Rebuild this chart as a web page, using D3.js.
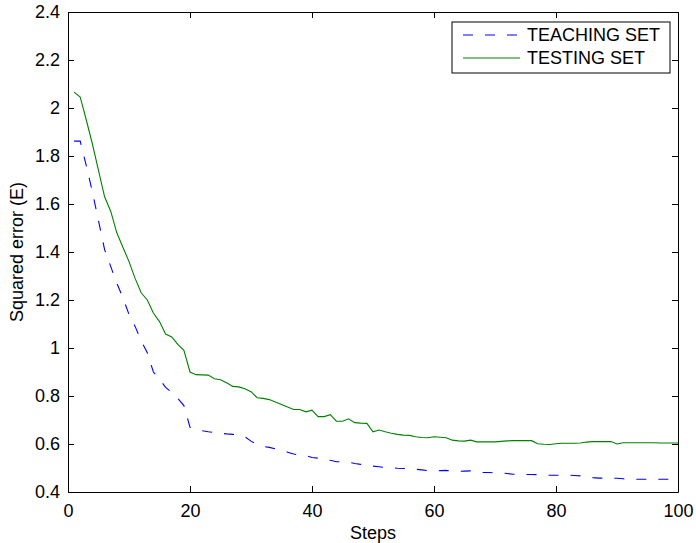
<!DOCTYPE html>
<html>
  <head>
    <meta charset="utf-8">
    <title>Squared error vs steps</title>
    <script src="https://d3js.org/d3.v7.min.js"></script>
    <style>
      body { margin: 0; background: #fff; }
      svg { font-family: "Liberation Sans", Arial, sans-serif; }
      .tick text { font-size: 18px; fill: #000; }
      .label { font-size: 18px; fill: #000; }
    </style>
  </head>
  <body>
    <svg id="chart" width="696" height="543"></svg>
    <script>
      // data (steps 1..100)
      var steps = d3.range(1, 101);
      var teaching = [
        1.862, 1.862, 1.76, 1.65, 1.53, 1.41, 1.34, 1.27, 1.21, 1.14,
        1.09, 1.03, 0.98, 0.90, 0.87, 0.836, 0.815, 0.79, 0.76, 0.67,
        0.662, 0.655, 0.651, 0.648, 0.645, 0.642, 0.64, 0.637, 0.63, 0.612,
        0.598, 0.59, 0.586, 0.58, 0.574, 0.566, 0.558, 0.554, 0.552, 0.544,
        0.541, 0.539, 0.532, 0.526, 0.526, 0.524, 0.519, 0.515, 0.512, 0.508,
        0.505, 0.502, 0.501, 0.499, 0.498, 0.497, 0.495, 0.492, 0.489, 0.488,
        0.489, 0.49, 0.487, 0.486, 0.487, 0.488, 0.483, 0.481, 0.481, 0.48,
        0.479, 0.477, 0.474, 0.473, 0.473, 0.473, 0.472, 0.47, 0.47, 0.47,
        0.47, 0.47, 0.469, 0.467, 0.463, 0.46, 0.458, 0.458, 0.458, 0.457,
        0.455, 0.454, 0.453, 0.453, 0.453, 0.453, 0.453, 0.453, 0.453, 0.453
      ];
      var testing = [
        2.066, 2.046, 1.95, 1.85, 1.74, 1.63, 1.57, 1.48, 1.42, 1.36,
        1.29, 1.23, 1.20, 1.146, 1.11, 1.058, 1.046, 1.015, 0.99, 0.90,
        0.889, 0.888, 0.887, 0.872, 0.868, 0.855, 0.84, 0.838, 0.83, 0.818,
        0.793, 0.79, 0.785, 0.775, 0.765, 0.754, 0.744, 0.744, 0.734, 0.741,
        0.714, 0.714, 0.722, 0.695, 0.695, 0.705, 0.689, 0.687, 0.686, 0.651,
        0.658, 0.651, 0.645, 0.64, 0.637, 0.636, 0.63, 0.627, 0.626, 0.63,
        0.628, 0.626, 0.616, 0.613, 0.612, 0.616, 0.609, 0.609, 0.609, 0.609,
        0.611, 0.613, 0.614, 0.614, 0.614, 0.614, 0.601, 0.599, 0.598, 0.601,
        0.603, 0.603, 0.603, 0.604, 0.608, 0.61, 0.61, 0.61, 0.61, 0.60,
        0.605, 0.605, 0.605, 0.605, 0.605, 0.605, 0.604, 0.604, 0.604, 0.604
      ];
      var xTicks = [0, 20, 40, 60, 80, 100];
      var yTicks = [0.4, 0.6, 0.8, 1, 1.2, 1.4, 1.6, 1.8, 2, 2.2, 2.4];
      var seriesNames = ["TEACHING SET", "TESTING SET"];

      var svg = d3.select("#chart");
      var margin = { top: 12, right: 18, bottom: 51, left: 68 };
      var width = 696, height = 543;

      var x = d3.scaleLinear().domain([0, 100])
        .range([margin.left, width - margin.right]);
      var y = d3.scaleLinear().domain([0.4, 2.4])
        .range([height - margin.bottom, margin.top]);

      // axes: matlab style box with inward ticks
      svg.append("g")
        .attr("transform", "translate(0," + y(0.4) + ")")
        .call(d3.axisBottom(x).tickValues(xTicks).tickSizeInner(-6).tickSizeOuter(0).tickPadding(12).tickFormat(d3.format("d")));
      svg.append("g")
        .attr("transform", "translate(0," + y(2.4) + ")")
        .call(d3.axisTop(x).tickValues(xTicks).tickSizeInner(-6).tickSizeOuter(0).tickFormat(""));
      svg.append("g")
        .attr("transform", "translate(" + x(0) + ",0)")
        .call(d3.axisLeft(y).tickValues(yTicks).tickSizeInner(-6).tickSizeOuter(0).tickPadding(8).tickFormat(d3.format("")));
      svg.append("g")
        .attr("transform", "translate(" + x(100) + ",0)")
        .call(d3.axisRight(y).tickValues(yTicks).tickSizeInner(-6).tickSizeOuter(0).tickFormat(""));
      svg.selectAll(".domain").attr("stroke", "#000");
      svg.selectAll(".tick line").attr("stroke", "#000");

      var line = d3.line()
        .x(function(d, i) { return x(steps[i]); })
        .y(function(d) { return y(d); });

      svg.append("path")
        .datum(testing)
        .attr("fill", "none")
        .attr("stroke", "#008000")
        .attr("stroke-width", 1.1)
        .attr("d", line);
      svg.append("path")
        .datum(teaching)
        .attr("fill", "none")
        .attr("stroke", "#0000ff")
        .attr("stroke-width", 1.1)
        .attr("stroke-dasharray", "10,12")
        .attr("d", line);

      // axis labels
      svg.append("text").attr("class", "label")
        .attr("x", x(50)).attr("y", 539)
        .attr("text-anchor", "middle")
        .text("Steps");
      svg.append("text").attr("class", "label")
        .attr("transform", "translate(23," + y(1.4) + ") rotate(-90)")
        .attr("text-anchor", "middle")
        .text("Squared error (E)");

      // legend
      var legend = svg.append("g").attr("transform", "translate(452,22)");
      legend.append("rect")
        .attr("width", 218).attr("height", 51)
        .attr("fill", "#fff").attr("stroke", "#000");
      var styles = [
        { color: "#0000ff", dash: "10,12" },
        { color: "#008000", dash: null }
      ];
      seriesNames.forEach(function(name, i) {
        var row = legend.append("g").attr("transform", "translate(0," + (13 + i * 23) + ")");
        row.append("line")
          .attr("x1", 11).attr("x2", 68)
          .attr("stroke", styles[i].color)
          .attr("stroke-width", 1.1)
          .attr("stroke-dasharray", styles[i].dash);
        row.append("text").attr("class", "label")
          .attr("x", 75).attr("dy", "0.35em")
          .text(name);
      });
    </script>
  </body>
</html>
